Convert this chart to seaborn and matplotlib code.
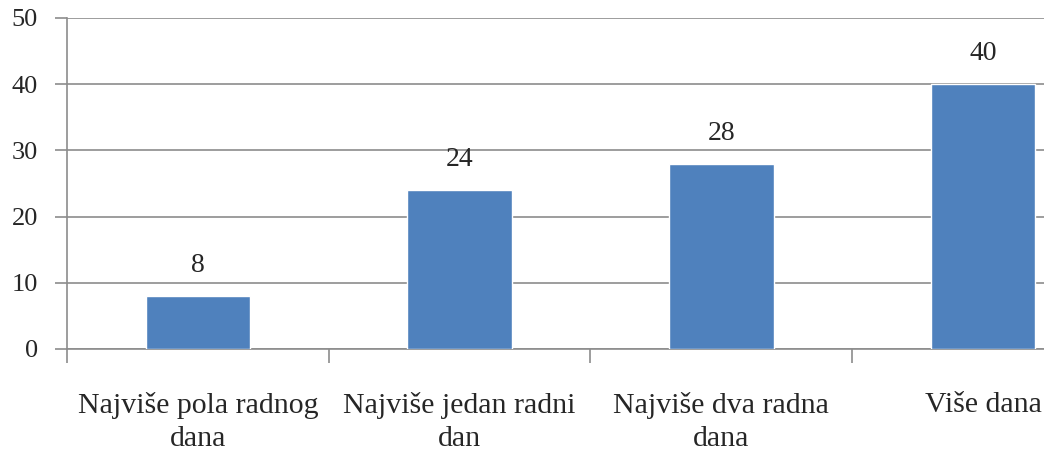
import matplotlib
matplotlib.use("Agg")
import matplotlib.pyplot as plt
import seaborn as sns
import pandas as pd

# chart values
categories = ["Najviše pola radnog\ndana", "Najviše jedan radni\ndan",
              "Najviše dva radna\ndana", "Više dana"]
values = [8, 24, 28, 40]
y_ticks = [0, 10, 20, 30, 40, 50]

sns.set_theme(style="white")
plt.rcParams["font.family"] = ["Liberation Serif", "DejaVu Serif"]

df = pd.DataFrame({"kategorija": categories, "vrijednost": values})

fig = plt.figure(figsize=(10.44, 4.58), dpi=100)
ax = fig.add_axes([0.0642, 0.238, 0.9358, 0.723])

sns.barplot(data=df, x="kategorija", y="vrijednost", color="#4F81BD",
            saturation=1, width=0.4, ax=ax, zorder=3)

ax.set_yticks(y_ticks)
ax.set_yticklabels([str(t) for t in y_ticks], fontsize=19)
ax.set_xlabel("")
ax.set_ylabel("")

ax.yaxis.grid(True, color="#8c8c8c", linewidth=1.2, zorder=0)
ax.xaxis.grid(False)
for side in ["top", "right"]:
    ax.spines[side].set_visible(False)
for side in ["left", "bottom"]:
    ax.spines[side].set_color("#8c8c8c")
    ax.spines[side].set_linewidth(1.2)

ax.tick_params(axis="y", length=9, width=1.2, color="#8c8c8c", pad=12, left=True)
ax.tick_params(axis="x", which="major", length=0, pad=31, labelsize=21.5)
ax.set_xticks([-0.5, 0.5, 1.5, 2.5, 3.5], minor=True)
ax.tick_params(axis="x", which="minor", length=10, width=1.2, color="#8c8c8c",
               bottom=True, direction="out")
for lbl in ax.get_xticklabels():
    lbl.set_linespacing(1.35)

# limits last, after the ticks have been set
ax.set_ylim(0, 50)
ax.set_xlim(-0.5, 3.233)

for i, v in enumerate(values):
    ax.annotate(str(v), (i, v), xytext=(0, 13), textcoords="offset points",
                ha="center", va="bottom", fontsize=20)

fig.savefig("out.png", dpi=100)
